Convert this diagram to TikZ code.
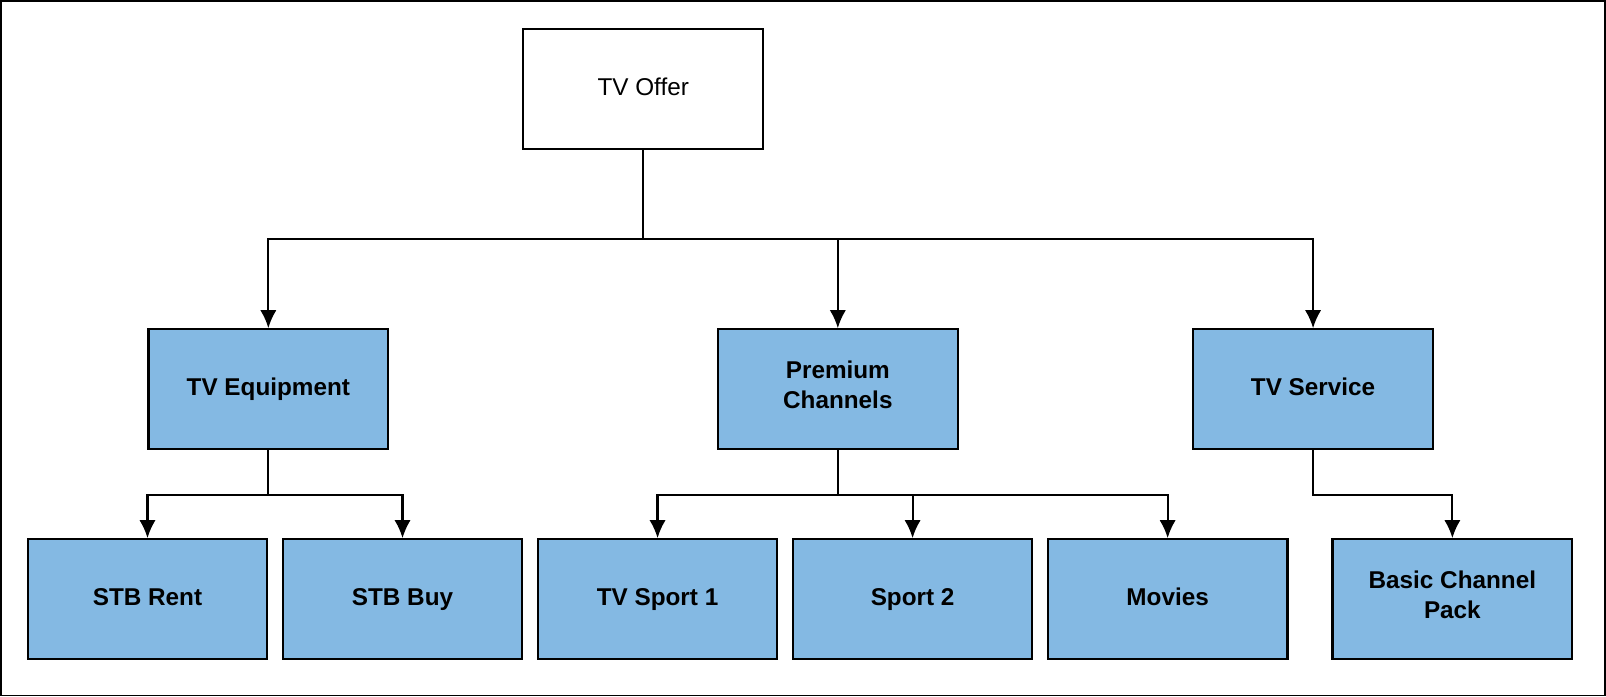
\documentclass[tikz,border=0pt]{standalone}
\usepackage{fontspec}
\setmainfont{Liberation Sans}
\usetikzlibrary{arrows.meta}
\definecolor{boxblue}{HTML}{84B9E3}
\begin{document}
\begin{tikzpicture}
          [x=0.02cm,y=-0.02cm,
           box/.style={draw, line width=1.2pt, minimum width=4.68cm, minimum height=2.34cm, align=center, font=\fontsize{13.5}{17}\selectfont\bfseries, fill=boxblue, execute at begin node=\strut},
           link/.style={line width=1.2pt, -{Latex[length=10pt,width=9pt]}}]
        \useasboundingbox (0,0) rectangle (1568,680);
        \draw[line width=1pt] (1,1) rectangle (1567,679);

        \node[box, fill=white, font=\fontsize{13.5}{17}\selectfont] (offer) at (628,87) {TV Offer};
        \node[box] (equip) at (262,380) {TV Equipment};
        \node[box] (prem) at (818,380) {Premium\\Channels\strut};
        \node[box] (serv) at (1282,380) {TV Service};
        \node[box] (rent) at (144,585) {STB Rent};
        \node[box] (buy) at (393,585) {STB Buy};
        \node[box] (sport1) at (642,585) {TV Sport 1};
        \node[box] (sport2) at (891,585) {Sport 2};
        \node[box] (movies) at (1140,585) {Movies};
        \node[box] (basic) at (1418,585) {Basic Channel\\Pack\strut};

        \coordinate (top) at (628,233);
        \draw[line width=1.2pt] (offer) -- (top);
        \foreach \to in {equip, prem, serv}
          \draw[link] (top) -| (\to);

        \foreach \from/\to in {equip/rent, equip/buy, prem/sport1, prem/sport2, prem/movies, serv/basic}
          \draw[link] (\from.south) -- ++(0,44) -| (\to.north);
      \end{tikzpicture}
\end{document}
